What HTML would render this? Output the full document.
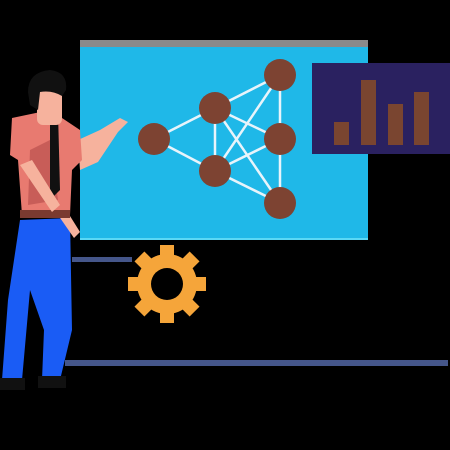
<!DOCTYPE html>
<html><head><style>html,body{margin:0;padding:0;background:#000;width:450px;height:450px;overflow:hidden}</style></head>
<body>
<svg width="450" height="450" viewBox="0 0 450 450" xmlns="http://www.w3.org/2000/svg">
<rect width="450" height="450" fill="#000"/>
<rect x="80" y="40" width="288" height="8" fill="#8a8a8a"/>
<rect x="80" y="47" width="288" height="193" fill="#1fb8e8"/>
<rect x="80" y="238" width="288" height="2" fill="#5ad8f5"/>
<rect x="312" y="63" width="138" height="91" fill="#2a2160"/>
<g fill="#7a4530">
<rect x="334" y="122" width="15" height="23"/>
<rect x="361" y="80" width="15" height="65"/>
<rect x="388" y="104" width="15" height="41"/>
<rect x="414" y="92" width="15" height="53"/>
</g>
<g stroke="#e8f4fb" stroke-width="2.5">
<line x1="154" y1="139" x2="215" y2="108"/>
<line x1="154" y1="139" x2="215" y2="171"/>
<line x1="215" y1="108" x2="215" y2="171"/>
<line x1="215" y1="108" x2="280" y2="75"/>
<line x1="215" y1="108" x2="280" y2="139"/>
<line x1="215" y1="108" x2="280" y2="203"/>
<line x1="215" y1="171" x2="280" y2="75"/>
<line x1="215" y1="171" x2="280" y2="139"/>
<line x1="215" y1="171" x2="280" y2="203"/>
<line x1="280" y1="75" x2="280" y2="203"/>
</g>
<g fill="#7d4332">
<circle cx="154" cy="139" r="16"/>
<circle cx="215" cy="108" r="16"/>
<circle cx="215" cy="171" r="16"/>
<circle cx="280" cy="75" r="16"/>
<circle cx="280" cy="139" r="16"/>
<circle cx="280" cy="203" r="16"/>
</g>
<rect x="72" y="257" width="60" height="5" fill="#45568a"/>
<rect x="65" y="360" width="383" height="6" fill="#45568a"/>
<g transform="translate(167,284)" fill="#f5a53a">
<circle r="30"/>
<g id="t"><rect x="-7" y="-39" width="14" height="14"/></g>
<use href="#t" transform="rotate(45)"/><use href="#t" transform="rotate(90)"/><use href="#t" transform="rotate(135)"/>
<use href="#t" transform="rotate(180)"/><use href="#t" transform="rotate(225)"/><use href="#t" transform="rotate(270)"/><use href="#t" transform="rotate(315)"/>
<circle r="16" fill="#000"/>
</g>
<!-- person -->
<path d="M20 220 L70 218 L72 330 L60 380 L42 380 L44 330 L30 290 L22 380 L2 380 L8 300 Z" fill="#1a5cf5"/>
<rect x="0" y="378" width="25" height="12" fill="#111"/>
<rect x="38" y="376" width="28" height="12" fill="#111"/>
<path d="M78 140 L100 130 L120 118 L128 122 L118 132 L98 162 L80 170 Z" fill="#f6b29d"/>
<path d="M60 200 L80 232 L74 238 L56 212 Z" fill="#f6b29d"/>
<path d="M12 118 L50 110 L80 130 L82 160 L72 170 L70 215 L22 215 L18 160 L10 155 Z" fill="#e87a70"/>
<path d="M30 150 L50 140 L58 200 L28 205 Z" fill="#c85d58"/>
<rect x="20" y="210" width="50" height="8" fill="#7a3a30"/>
<path d="M50 112 L58 112 L60 190 L54 196 L50 190 Z" fill="#111"/>
<path d="M20 165 L32 160 L60 205 L52 212 Z" fill="#f6b29d"/>
<rect x="37" y="85" width="25" height="40" rx="6" fill="#f6b29d"/>
<path d="M28 92 Q28 72 50 70 Q68 72 66 90 L62 96 Q52 90 40 92 L38 110 L30 105 Z" fill="#111"/>
</svg>
</body></html>
